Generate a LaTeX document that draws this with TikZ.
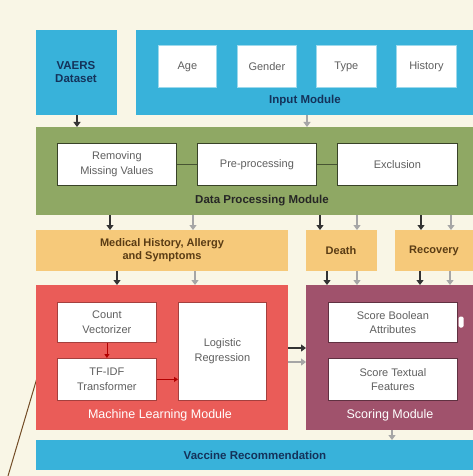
\documentclass[tikz,border=0pt]{standalone}
\usepackage{fontspec}
\setmainfont{Liberation Sans}
\usetikzlibrary{arrows.meta}
\definecolor{bgcream}{RGB}{249,246,230}
\definecolor{modblue}{RGB}{56,178,218}
\definecolor{modgreen}{RGB}{143,168,100}
\definecolor{modorange}{RGB}{246,201,122}
\definecolor{modred}{RGB}{234,92,88}
\definecolor{modmauve}{RGB}{160,82,108}
\definecolor{navytext}{RGB}{20,50,90}
\definecolor{greytext}{RGB}{95,95,95}
\definecolor{brtext}{RGB}{90,60,20}
\tikzset{
  module/.style={anchor=north west,inner sep=0pt,draw=none},
  inbox/.style={anchor=north west,fill=white,draw=#1,line width=0.8pt,inner sep=2pt,
    align=center,font=\fontsize{11}{14.5}\selectfont,text=greytext},
  modlabel/.style={font=\bfseries\fontsize{11.5}{13}\selectfont},
  whitelabel/.style={font=\fontsize{12.5}{14}\selectfont,text=white},
  outlabel/.style={text=brtext,align=center,font=\bfseries\fontsize{11}{13.5}\selectfont},
  blk/.style={-{Triangle[width=7pt,length=5pt]},line width=1.2pt,draw=black!80},
  gry/.style={-{Triangle[width=7pt,length=5pt]},line width=1.2pt,draw=black!35},
  redarr/.style={-{Triangle[width=5pt,length=4pt]},line width=0.8pt,draw=red!70!black}
}
\begin{document}
\begin{tikzpicture}[x=1pt,y=-1pt]
\clip (0,0) rectangle (473,476);
\fill[bgcream] (0,0) rectangle (473,476);
\draw[brown!60!black,line width=1pt] (8,476) -- (37,378);

% input
\node[module,fill=modblue,minimum width=81,minimum height=85] (vaers) at (36,30) {};
\node[modlabel,text=navytext,align=center] (vaerst) at (76,72) {VAERS\\Dataset};
\node[module,fill=modblue,minimum width=345,minimum height=85] (inp) at (136,30) {};
\node[inbox=modblue!50,minimum width=58,minimum height=42] (age) at (158,45) {Age};
\node[inbox=modblue!50,minimum width=59,minimum height=42] (gen) at (237,45) {Gender};
\node[inbox=modblue!50,minimum width=60,minimum height=42] (typ) at (316,45) {Type};
\node[inbox=modblue!50,minimum width=60,minimum height=42] (his) at (396,45) {History};
\node[modlabel,text=navytext] (inpt) at (305,101) {Input Module};

% data processing
\node[module,fill=modgreen,minimum width=445,minimum height=88] (dpm) at (36,127) {};
\node[inbox=modgreen!40!black,minimum width=119,minimum height=42] (rem) at (57,143) {Removing\\Missing Values};
\node[inbox=modgreen!40!black,minimum width=119,minimum height=42] (pre) at (197,143) {Pre-processing};
\node[inbox=modgreen!40!black,minimum width=120,minimum height=42] (exc) at (337,143) {Exclusion};
\draw[modgreen!50!black,line width=0.6pt] (rem.east) -- (pre.west);
\draw[modgreen!50!black,line width=0.6pt] (pre.east) -- (exc.west);
\node[modlabel,text=black!85] (dpmt) at (262,201) {Data Processing Module};

% outputs
\node[module,fill=modorange,minimum width=252,minimum height=41] (med) at (36,230) {};
\node[outlabel] (medt) at (162,250) {Medical History, Allergy\\and Symptoms};
\node[module,fill=modorange,minimum width=71,minimum height=41] (dth) at (306,230) {};
\node[outlabel] (dtht) at (341,251) {Death};
\node[module,fill=modorange,minimum width=90,minimum height=41] (rec) at (395,230) {};
\node[outlabel] (rect) at (434,251) {Recovery};

\draw[blk] (77,0 |- vaers.south) -- (77,0 |- dpm.north);
\draw[gry] (307,0 |- inp.south) -- (307,0 |- dpm.north);
\foreach \x/\c in {110/blk,193/gry,320/blk,357/gry,421/blk,451/gry}
  \draw[\c] (\x,0 |- dpm.south) -- (\x,0 |- med.north);

% machine learning
\node[module,fill=modred,minimum width=252,minimum height=145] (ml) at (36,285) {};
\node[inbox=modred!70!black,minimum width=99,minimum height=40] (cv) at (57,302) {Count\\Vectorizer};
\node[inbox=modred!70!black,minimum width=99,minimum height=42] (tf) at (57,358) {TF-IDF\\Transformer};
\node[inbox=modred!70!black,minimum width=88,minimum height=98] (lr) at (178,302) {Logistic\\Regression};
\draw[redarr] (cv.south) -- (tf.north);
\draw[redarr] (tf.east) -- (lr.west |- tf.east);
\node[whitelabel] (mlt) at (160,415) {Machine Learning Module};

% scoring
\node[module,fill=modmauve,minimum width=175,minimum height=145] (sc) at (306,285) {};
\node[inbox=modmauve!60!black,minimum width=129,minimum height=40] (sba) at (328,302) {Score Boolean\\Attributes};
\node[inbox=modmauve!60!black,minimum width=129,minimum height=42] (stf) at (328,358) {Score Textual\\Features};
\node[fill=white,rounded corners=1.5pt,minimum width=5,minimum height=11,inner sep=0pt] (knob) at (461,322) {};
\node[whitelabel] (sct) at (390,415) {Scoring Module};

\foreach \x/\c in {117/blk,195/gry,327/blk,357/gry,420/blk,450/gry}
  \draw[\c] (\x,0 |- med.south) -- (\x,0 |- ml.north);
\draw[blk] (ml.east |- 0,348) -- (sc.west |- 0,348);
\draw[gry] (ml.east |- 0,362) -- (sc.west |- 0,362);

% recommendation
\node[module,fill=modblue,minimum width=445,minimum height=30] (vac) at (36,440) {};
\node[modlabel,text=navytext] (vact) at (255,455) {Vaccine Recommendation};
\draw[gry] (392,0 |- sc.south) -- (392,0 |- vac.north);
\end{tikzpicture}
\end{document}
